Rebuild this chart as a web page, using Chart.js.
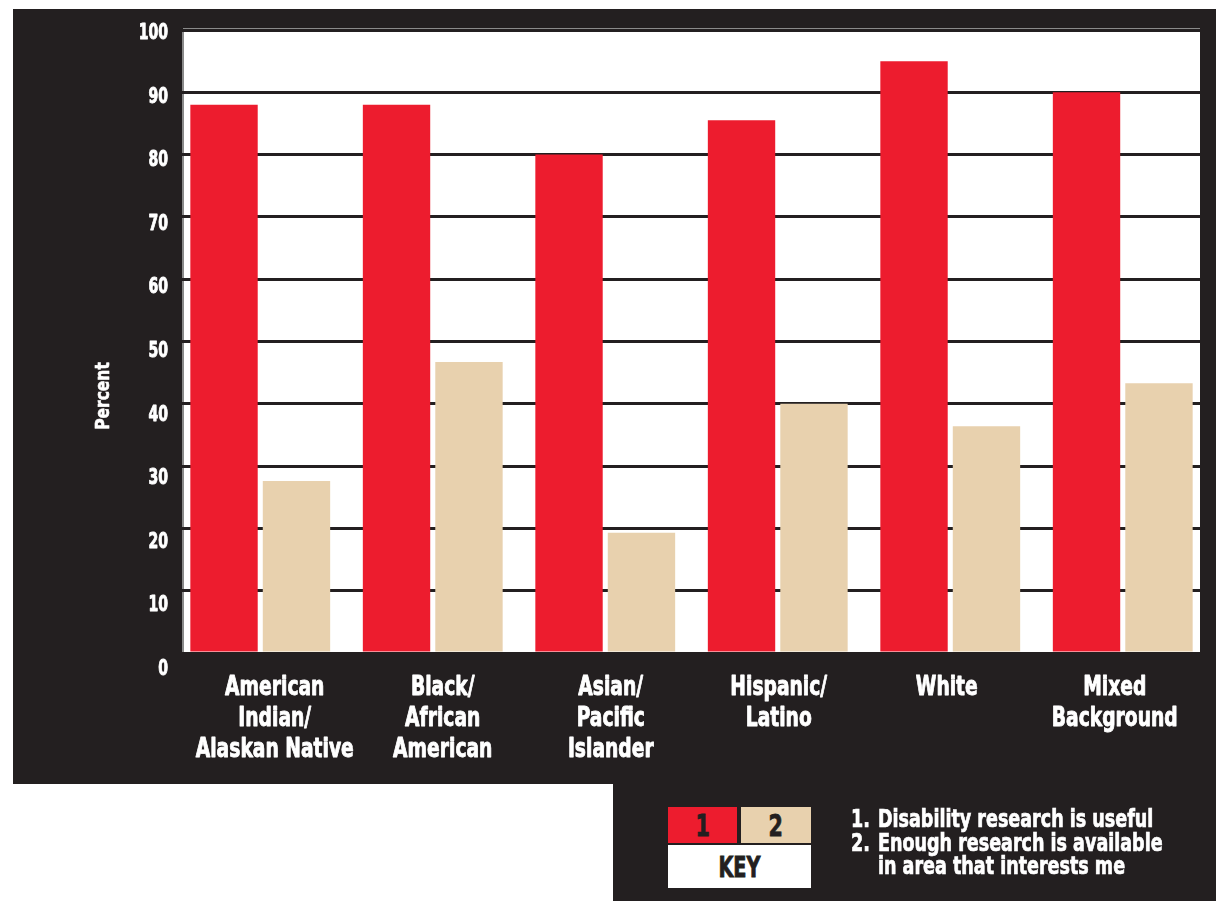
<!DOCTYPE html>
<html>
<head>
<meta charset="utf-8">
<script src="https://cdn.jsdelivr.net/npm/chart.js@4/dist/chart.umd.min.js"></script>
<style>
    html, body { margin: 0; padding: 0; background: #fff; }
    body { width: 1216px; height: 901px; position: relative; overflow: hidden;
           font-family: 'DejaVu Sans Condensed', 'DejaVu Sans', sans-serif; font-weight: bold; }
    .panel { position: absolute; background: #231f20; }
    #chartWrap { position: absolute; left: 0; top: 0; width: 1216px; height: 901px; }
    .key-cell { position: absolute; display: flex; align-items: center; justify-content: center;
                color: #231f20; -webkit-text-stroke: 0.8px #231f20; }
    .key-cell span { display: inline-block; transform: scaleX(0.74); }
    .key-text { position: absolute; color: #fff; font-size: 25px; line-height: 24px; white-space: nowrap;
                -webkit-text-stroke: 0.7px #fff;
                transform: scaleX(0.78); transform-origin: left center; }
</style>
</head>
<body>
<div class="panel" style="left:13px; top:9px; width:1203px; height:775px;"></div>
<div class="panel" style="left:613px; top:783px; width:603px; height:118px;"></div>
<div id="chartWrap"><canvas id="barChart" width="1216" height="901"></canvas></div>

<div class="key-cell" style="left:668px; top:807px; width:69px; height:36px; background:#ed1c2e; font-size:31px;"><span>1</span></div>
<div class="key-cell" style="left:741px; top:807px; width:70px; height:36px; background:#e8d1ae; font-size:31px;"><span>2</span></div>
<div class="key-cell" style="left:668px; top:845px; width:143px; height:43px; background:#fff; font-size:29px;"><span>KEY</span></div>
<div class="key-text" style="left:851px; top:807px;">1.</div>
<div class="key-text" style="left:878px; top:807px;">Disability research is useful</div>
<div class="key-text" style="left:851px; top:831px;">2.</div>
<div class="key-text" style="left:878px; top:831px;">Enough research is available</div>
<div class="key-text" style="left:878px; top:854px;">in area that interests me</div>

<script>
// Groups and values (percent)
const groups = [
    ['American', 'Indian/', 'Alaskan Native'],
    ['Black/', 'African', 'American'],
    ['Asian/', 'Pacific', 'Islander'],
    ['Hispanic/', 'Latino'],
    ['White'],
    ['Mixed', 'Background']
];
const usefulValues = [88, 88, 80, 85.5, 95, 90];
const availableValues = [27.6, 46.7, 19.3, 40, 36.4, 43.3];
const yTicks = [0, 10, 20, 30, 40, 50, 60, 70, 80, 90, 100];

const DARK = '#231f20';
const FONT = "'DejaVu Sans Condensed', 'DejaVu Sans', sans-serif";

// white plot panel with its thin grey frame, painted before the grid
const plotBackground = {
    id: 'plotBackground',
    beforeDraw(chart) {
        const { ctx, chartArea } = chart;
        const left = 183, right = 1200;
        ctx.save();
        ctx.fillStyle = '#ffffff';
        ctx.fillRect(left, chartArea.top, right - left, chartArea.bottom - chartArea.top);
        ctx.fillStyle = '#8a8a8a';
        ctx.fillRect(left - 1, chartArea.top, 2, chartArea.bottom - chartArea.top);
        ctx.fillRect(left, chartArea.top - 2, right - left, 2);
        ctx.restore();
    }
};

// squeeze text horizontally (and thicken it a bit) for the heavy condensed look
function drawNarrow(ctx, text, x, y, sx) {
    ctx.save();
    ctx.translate(x, y);
    ctx.scale(sx, 1);
    ctx.fillText(text, 0, 0);
    ctx.strokeText(text, 0, 0);
    ctx.restore();
}

const narrowLabels = {
    id: 'narrowLabels',
    afterDraw(chart) {
        const { ctx, scales: { x, y } } = chart;
        ctx.save();
        ctx.fillStyle = '#ffffff';
        ctx.strokeStyle = '#ffffff';
        ctx.lineWidth = 0.9;
        ctx.lineJoin = 'round';
        ctx.textBaseline = 'alphabetic';

        // y tick labels, spaced a touch wider than the grid
        ctx.font = `bold 22px ${FONT}`;
        ctx.textAlign = 'right';
        yTicks.forEach(v => {
            const py = y.getPixelForValue(v) + 1 + (100 - v) * 0.13 + 8;
            drawNarrow(ctx, String(v), 168, py, 0.71);
        });

        // category labels
        ctx.font = `bold 27px ${FONT}`;
        ctx.textAlign = 'center';
        groups.forEach((lines, i) => {
            const cx = x.getPixelForValue(i) + 14.5 - 4.5 * i;
            lines.forEach((line, j) => {
                drawNarrow(ctx, line, cx, chart.chartArea.bottom + 42 + 31 * j, 0.77);
            });
        });

        // axis title
        ctx.font = `bold 20px ${FONT}`;
        ctx.textBaseline = 'middle';
        ctx.lineWidth = 0.6;
        ctx.translate(104, 396);
        ctx.rotate(-Math.PI / 2);
        drawNarrow(ctx, 'Percent', 0, 0, 0.86);
        ctx.restore();
    }
};

const ctx = document.getElementById('barChart').getContext('2d');
const barChart = new Chart(ctx, {
    type: 'bar',
    data: {
        labels: groups,
        datasets: [
            {
                label: 'Disability research is useful',
                data: usefulValues,
                backgroundColor: '#ed1c2e',
                categoryPercentage: 0.84,
                barPercentage: 0.93
            },
            {
                label: 'Enough research is available in area that interests me',
                data: availableValues,
                backgroundColor: '#e8d1ae',
                categoryPercentage: 0.84,
                barPercentage: 0.93
            }
        ]
    },
    options: {
        responsive: false,
        animation: false,
        layout: { padding: { left: 13, top: 30, right: 7, bottom: 0 } },
        plugins: {
            legend: { display: false },
            tooltip: { enabled: false }
        },
        scales: {
            x: {
                grid: { display: false },
                border: { display: false },
                ticks: { display: false },
                afterFit(scale) { scale.height = 248; }
            },
            y: {
                min: 0,
                max: 100,
                afterBuildTicks(scale) { scale.ticks = yTicks.map(v => ({ value: v })); },
                grid: { color: DARK, lineWidth: 3, drawTicks: false },
                border: { display: false },
                ticks: { display: false },
                afterFit(scale) { scale.width = 161; }
            }
        }
    },
    plugins: [plotBackground, narrowLabels]
});
</script>
</body>
</html>
